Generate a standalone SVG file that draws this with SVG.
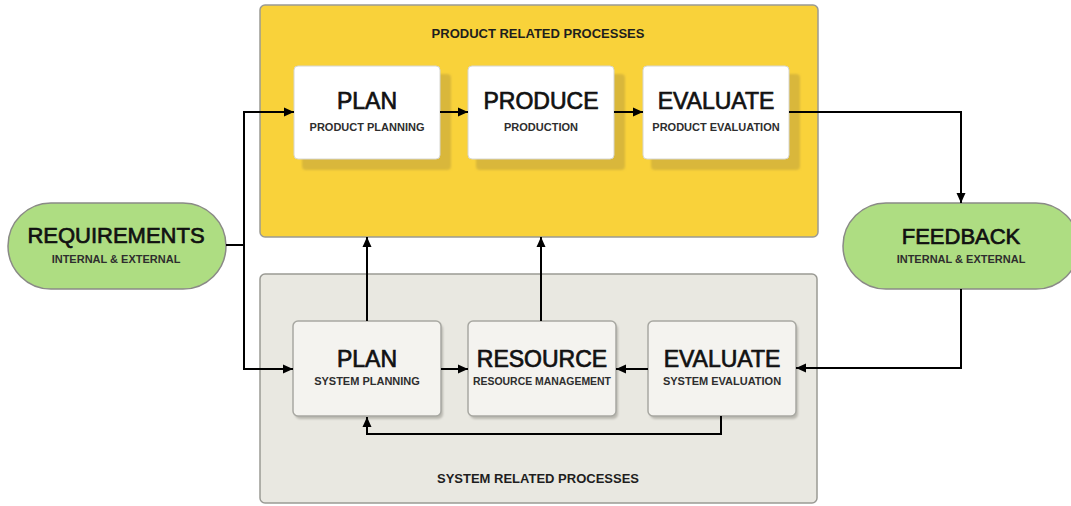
<svg xmlns="http://www.w3.org/2000/svg" width="1071" height="506" viewBox="0 0 1071 506">
<defs>
<marker id="ah" markerUnits="userSpaceOnUse" markerWidth="12" markerHeight="12" viewBox="0 0 12 12" refX="11" refY="6" orient="auto">
<path d="M1,1.5 L11,6 L1,10.5 Z" fill="#000"/>
</marker>
<filter id="sh" x="-10%" y="-10%" width="130%" height="130%">
<feGaussianBlur stdDeviation="1.2"/>
</filter>
<style>
.panel{stroke:#9a9a94;stroke-width:1.5}
.yel{fill:#f9d23a}
.gry{fill:#e9e8e1}
.pshadow{fill:#d9b73a;filter:url(#sh)}
.sshadow{fill:#b9b8b0;filter:url(#sh)}
.pbox{fill:#ffffff;stroke:#d6d6d0;stroke-width:1}
.sbox{fill:#f4f3ef;stroke:#a8a8a2;stroke-width:1.5}
.pill{fill:#aedd82;stroke:#8a8a86;stroke-width:1.5}
.t{font-family:"Liberation Sans",Arial,sans-serif;fill:#111;text-anchor:middle}
.title{font-size:23px;stroke:#111;stroke-width:0.7}
.big{font-size:22px;stroke:#111;stroke-width:0.7}
.sub{font-size:11px;font-weight:bold;fill:#2e2e2e}
.plab{font-size:13px;font-weight:bold;fill:#1e1e1e}
.conn{fill:none;stroke:#000;stroke-width:2}
</style>
</defs>
<rect width="1071" height="506" fill="#ffffff"/>

<g id="product-panel">
<rect class="panel yel" x="260" y="5" width="558" height="232" rx="5"/>
<text class="t plab" x="538" y="38">PRODUCT RELATED PROCESSES</text>
</g>
<g id="system-panel">
<rect class="panel gry" x="260" y="274" width="557" height="229" rx="5"/>
<text class="t plab" x="538" y="483">SYSTEM RELATED PROCESSES</text>
</g>

<g id="product-plan">
<rect class="pshadow" x="302" y="74" width="149" height="96" rx="4"/>
<rect class="pbox" x="294" y="66" width="146" height="93" rx="4"/>
<text class="t title" x="367" y="109">PLAN</text>
<text class="t sub" x="367" y="131">PRODUCT PLANNING</text>
</g>
<g id="product-produce">
<rect class="pshadow" x="476" y="74" width="149" height="96" rx="4"/>
<rect class="pbox" x="468" y="66" width="146" height="93" rx="4"/>
<text class="t title" x="541" y="109">PRODUCE</text>
<text class="t sub" x="541" y="131">PRODUCTION</text>
</g>
<g id="product-evaluate">
<rect class="pshadow" x="651" y="74" width="149" height="96" rx="4"/>
<rect class="pbox" x="643" y="66" width="146" height="93" rx="4"/>
<text class="t title" x="716" y="109">EVALUATE</text>
<text class="t sub" x="716" y="131">PRODUCT EVALUATION</text>
</g>

<g id="system-plan">
<rect class="sshadow" x="295" y="324" width="148" height="95" rx="5"/>
<rect class="sbox" x="293" y="321" width="148" height="95" rx="5"/>
<text class="t title" x="367" y="367">PLAN</text>
<text class="t sub" x="367" y="385">SYSTEM PLANNING</text>
</g>
<g id="system-resource">
<rect class="sshadow" x="470" y="324" width="148" height="95" rx="5"/>
<rect class="sbox" x="468" y="321" width="148" height="95" rx="5"/>
<text class="t title" x="542" y="367">RESOURCE</text>
<text class="t sub" x="542" y="385" textLength="138" lengthAdjust="spacingAndGlyphs">RESOURCE MANAGEMENT</text>
</g>
<g id="system-evaluate">
<rect class="sshadow" x="650" y="324" width="148" height="95" rx="5"/>
<rect class="sbox" x="648" y="321" width="148" height="95" rx="5"/>
<text class="t title" x="722" y="367">EVALUATE</text>
<text class="t sub" x="722" y="385">SYSTEM EVALUATION</text>
</g>

<g id="requirements">
<rect class="pill" x="8" y="203" width="218" height="86" rx="43"/>
<text class="t big" x="116" y="243">REQUIREMENTS</text>
<text class="t sub" x="116" y="263">INTERNAL &amp; EXTERNAL</text>
</g>
<g id="feedback">
<rect class="pill" x="843" y="203" width="236" height="86" rx="43"/>
<text class="t big" x="961" y="244">FEEDBACK</text>
<text class="t sub" x="961" y="263">INTERNAL &amp; EXTERNAL</text>
</g>

<g id="connectors">
<path class="conn" d="M226,245 H244 V112 H294" marker-end="url(#ah)"/>
<path class="conn" d="M244,245 V369 H293" marker-end="url(#ah)"/>
<path class="conn" d="M440,112 H468" marker-end="url(#ah)"/>
<path class="conn" d="M614,112 H643" marker-end="url(#ah)"/>
<path class="conn" d="M789,112 H961 V203" marker-end="url(#ah)"/>
<path class="conn" d="M961,289 V368 H796" marker-end="url(#ah)"/>
<path class="conn" d="M441,369 H468" marker-end="url(#ah)"/>
<path class="conn" d="M648,369 H616" marker-end="url(#ah)"/>
<path class="conn" d="M367,321 V237" marker-end="url(#ah)"/>
<path class="conn" d="M541,321 V237" marker-end="url(#ah)"/>
<path class="conn" d="M721,416 V434 H367 V417" marker-end="url(#ah)"/>
</g>
</svg>
